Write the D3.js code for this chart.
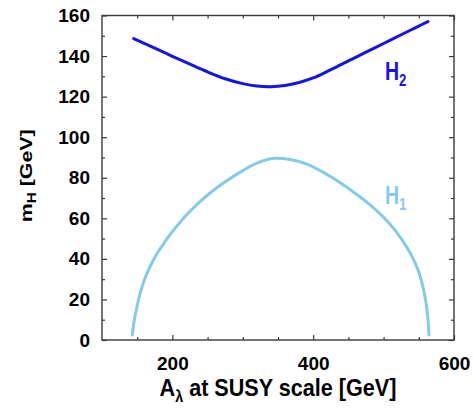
<!DOCTYPE html>
<html>
<head>
<meta charset="utf-8">
<script src="https://cdn.jsdelivr.net/npm/d3@7"></script>
<style>
  body { margin: 0; background: #fff; }
  text { font-family: 'Liberation Sans', Arial, Helvetica, sans-serif; font-weight: bold; }
</style>
</head>
<body>
<div id="chart"></div>
<script>
// H2 (heavier state)
const h2A = [145, 175, 200, 225, 250, 275, 300, 320, 340, 360, 380, 400, 425, 450, 475, 500, 525, 550, 563];
const h2M = [148.6, 143.9, 139.9, 136.0, 132.2, 128.8, 126.4, 125.2, 124.9, 125.5, 127.0, 129.2, 133.3, 137.6, 141.9, 146.2, 150.5, 154.8, 157.0];

// H1 (lighter state)
const h1A = [143, 146, 150, 155, 160, 168, 178, 190, 200, 225, 250, 275, 300, 320, 345, 367, 390, 415, 438, 462, 485, 509, 525, 540, 550, 556, 560, 563, 564.5];
const h1M = [2.5, 10, 17, 24, 29.5, 36, 42.5, 48.7, 53.5, 63.5, 71.5, 78, 83.5, 87.2, 89.6, 89, 86.8, 82.5, 77.6, 71.7, 65.4, 57.2, 50, 41.5, 33.5, 26, 19, 10.5, 2.5];

// ticks
const xTickLabels = [200, 400, 600];
const xMinorTicks = [150, 250, 300, 350, 450, 500, 550];
const yTickLabels = [0, 20, 40, 60, 80, 100, 120, 140, 160];
const yMinorTicks = [10, 30, 50, 70, 90, 110, 130, 150];

const settings = { width: 473, height: 410, elId: '#chart' };
const margin = { top: 15.5, right: 19, bottom: 70, left: 102 };

const svg = d3.select(settings.elId)
    .append('svg')
    .attr('width', settings.width)
    .attr('height', settings.height);

const x = d3.scaleLinear().domain([100, 600]).range([margin.left, settings.width - margin.right]);
const y = d3.scaleLinear().domain([0, 160]).range([settings.height - margin.bottom, margin.top]);

const frameColor = '#3a3a3a';

// tick marks, pointing inwards on all four sides
function drawAxis(axis, tx, ty) {
    const g = svg.append('g')
        .attr('transform', `translate(${tx},${ty})`)
        .call(axis);
    g.select('.domain').remove();
    g.selectAll('line').attr('stroke', frameColor).attr('stroke-width', 1.2);
    g.selectAll('text')
        .attr('fill', '#000')
        .style('font-size', '19px')
        .style('font-family', "'Liberation Sans', Arial, sans-serif")
        .style('font-weight', 'bold');
    return g;
}

const x0 = y.range()[0], x1 = y.range()[1];
const yl = x.range()[0], yr = x.range()[1];

drawAxis(d3.axisBottom(x).tickValues(xTickLabels).tickSize(-5).tickPadding(16.5), 0, x0);
drawAxis(d3.axisBottom(x).tickValues(xMinorTicks).tickSize(-3).tickFormat(''), 0, x0);
drawAxis(d3.axisTop(x).tickValues(xTickLabels).tickSize(-5).tickFormat(''), 0, x1);
drawAxis(d3.axisTop(x).tickValues(xMinorTicks).tickSize(-3).tickFormat(''), 0, x1);

drawAxis(d3.axisLeft(y).tickValues(yTickLabels).tickSize(-5).tickPadding(12), yl, 0);
drawAxis(d3.axisLeft(y).tickValues(yMinorTicks).tickSize(-3).tickFormat(''), yl, 0);
drawAxis(d3.axisRight(y).tickValues(yTickLabels).tickSize(-5).tickFormat(''), yr, 0);
drawAxis(d3.axisRight(y).tickValues(yMinorTicks).tickSize(-3).tickFormat(''), yr, 0);

// frame
svg.append('rect')
    .attr('x', yl)
    .attr('y', x1)
    .attr('width', yr - yl)
    .attr('height', x0 - x1)
    .attr('fill', 'none')
    .attr('stroke', frameColor)
    .attr('stroke-width', 1.4);

// curves
const line = d3.line()
    .x(d => x(d[0]))
    .y(d => y(d[1]))
    .curve(d3.curveCatmullRom.alpha(0.5));

const series = [
    { name: 'H2', sub: '2', a: h2A, m: h2M, color: '#1414e6', lx: 502, ly: 128 },
    { name: 'H1', sub: '1', a: h1A, m: h1M, color: '#84cbe6', lx: 502, ly: 67 },
];

svg.append('g')
    .attr('id', 'curves')
    .selectAll('path')
    .data(series)
    .enter()
    .append('path')
    .attr('d', d => line(d3.zip(d.a, d.m)))
    .attr('fill', 'none')
    .attr('stroke', d => d.color)
    .attr('stroke-width', 3)
    .attr('stroke-linecap', 'round');

// curve labels
series.forEach(s => {
    const t = svg.append('text')
        .attr('transform', `translate(${x(s.lx)},${y(s.ly)}) scale(0.78,1)`)
        .attr('fill', s.color)
        .style('font-size', '25px');
    t.append('tspan').text('H');
    t.append('tspan').attr('dy', 6).style('font-size', '17px').text(s.sub);
});

// squeeze/stretch a text to a given width along its baseline
function fitText(t, target, cx, cy, rot) {
    const w = t.node().getBBox().width;
    const k = target / w;
    t.attr('transform', `translate(${cx},${cy}) rotate(${rot}) scale(${k},1)`);
}

// x axis title
const xt = svg.append('text')
    .attr('text-anchor', 'middle')
    .attr('fill', '#000')
    .style('font-size', '24px');
xt.append('tspan').text('A');
xt.append('tspan').attr('dy', 6).style('font-size', '16px').text('λ');
xt.append('tspan').attr('dy', -6).text(' at SUSY scale [GeV]');
fitText(xt, 237, (yl + yr) / 2, 395.5, 0);

// y axis title
const yt = svg.append('text')
    .attr('text-anchor', 'middle')
    .attr('fill', '#000')
    .style('font-size', '17px');
yt.append('tspan').text('m');
yt.append('tspan').attr('dy', 4).style('font-size', '12px').text('H');
yt.append('tspan').attr('dy', -4).text(' [GeV]');
fitText(yt, 93, 31.5, (x0 + x1) / 2 - 2, -90);
</script>
</body>
</html>
